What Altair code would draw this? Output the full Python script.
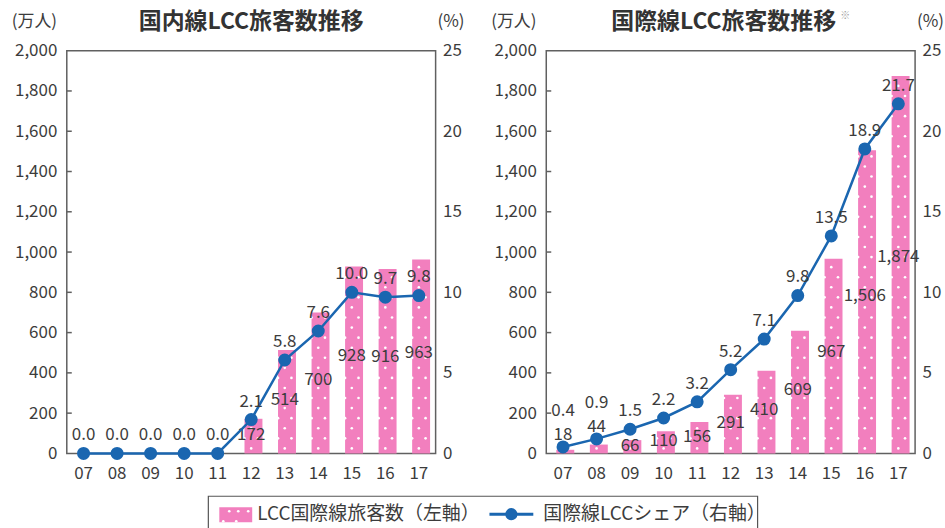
import altair as alt
import pandas as pd

# ---------------- data ----------------
years = ["07", "08", "09", "10", "11", "12", "13", "14", "15", "16", "17"]
dom_pax = [0, 0, 0, 0, 0, 172, 514, 700, 928, 916, 963]          # 万人
dom_share = [0.0, 0.0, 0.0, 0.0, 0.0, 2.1, 5.8, 7.6, 10.0, 9.7, 9.8]  # %
int_pax = [18, 44, 66, 110, 156, 291, 410, 609, 967, 1506, 1874]   # 万人
int_share = [0.4, 0.9, 1.5, 2.2, 3.2, 5.2, 7.1, 9.8, 13.5, 18.9, 21.7]  # %

left_ticks = [0, 200, 400, 600, 800, 1000, 1200, 1400, 1600, 1800, 2000]
right_ticks = [0, 5, 10, 15, 20, 25]

titles = ["国内線LCC旅客数推移", "国際線LCC旅客数推移"]
note_mark = "※"
left_unit = "(万人)"
right_unit = "(%)"
legend_labels = ["LCC国際線旅客数（左軸）", "国際線LCCシェア（右軸）"]

# ---------------- style ----------------
FONT = "Noto Sans CJK JP"
PINK = "#f27fbe"
BLUE = "#1a66b0"
TXT = "#3c3c3c"
FRAME = "#606060"
W, H = 370, 404


def panel(pax, share, title_text, title_x, note=None):
    df = pd.DataFrame({"year": years, "value": pax, "share": share})
    base = alt.Chart(df).transform_calculate(
        lab0="max(datum.value * 0.52, 60)", pt="datum.share * 80"
    ).transform_calculate(
        lab="abs(datum.lab0 - datum.pt) < 65 ? (datum.pt - 85 >= 30 ? datum.pt - 85 : datum.pt + 60) : datum.lab0"
    ).transform_calculate(
        slab="(datum.value > 0 && datum.lab > datum.pt) ? (datum.lab + 120) / 80 : datum.share + 1.12"
    )
    xscale = alt.Scale(paddingInner=0.6, paddingOuter=0.3)
    x_axis = alt.X("year:N", sort=years, scale=xscale,
                   axis=alt.Axis(title=None, labelAngle=0, ticks=False, domain=False,
                                 labelPadding=12, labelFontSize=17, labelColor=TXT,
                                 labelFont=FONT, grid=False))
    ys = alt.Scale(domain=[0, 2000], nice=False, zero=True)
    ys2 = alt.Scale(domain=[0, 25], nice=False, zero=True)

    bars = base.transform_filter("datum.value > 0").mark_bar(color=PINK).encode(
        x=x_axis,
        y=alt.Y("value:Q", scale=ys,
                axis=alt.Axis(values=left_ticks, format=",.0f", title=left_unit,
                              titleAngle=0, titleX=-33, titleY=-29, titleAlign="center",
                              titleBaseline="middle", titleFontSize=17,
                              titleFontWeight="normal", titleColor=TXT, titleFont=FONT,
                              ticks=False, domain=False, grid=False, labelPadding=10,
                              labelFontSize=17, labelColor=TXT, labelFont=FONT,
                              orient="left")),
    )

    dots = (
        base.transform_filter("datum.value > 0")
        .transform_calculate(dots="sequence(25, datum.value - 12, 50)")
        .transform_flatten(["dots"], as_=["dot"])
        .transform_calculate(offs="floor(datum.dot / 50) % 2 == 0 ? [0] : [-1, 1]")
        .transform_flatten(["offs"], as_=["off"])
        .mark_circle(color="white", opacity=1, size=7)
        .encode(
            x=x_axis,
            xOffset=alt.XOffset("off:Q", scale=alt.Scale(domain=[-1, 1])),
            y=alt.Y("dot:Q", scale=ys, axis=None),
        )
    )

    ticks = alt.Chart(pd.DataFrame({"t": left_ticks[1:-1]})).mark_rule(
        color=FRAME, strokeWidth=1.5
    ).encode(y=alt.Y("t:Q", scale=ys, axis=None), x=alt.value(0), x2=alt.value(5))

    bar_labels = (
        base.transform_filter("datum.value > 0")
        .mark_text(fontSize=17, color=TXT, font=FONT, baseline="middle")
        .encode(x=x_axis, y=alt.Y("lab:Q", scale=ys, axis=None),
                text=alt.Text("value:Q", format=","))
    )

    line = base.mark_line(color=BLUE, strokeWidth=2.5).encode(
        x=x_axis,
        y=alt.Y("share:Q", scale=ys2,
                axis=alt.Axis(orient="right", values=right_ticks, title=right_unit,
                              titleAngle=0, titleX=15, titleY=-29, titleAlign="center",
                              titleBaseline="middle", titleFontSize=17,
                              titleFontWeight="normal", titleColor=TXT, titleFont=FONT,
                              ticks=False, domain=False, grid=False, labelPadding=7,
                              labelFontSize=17, labelColor=TXT, labelFont=FONT)),
    )
    points = base.mark_circle(color=BLUE, size=170, opacity=1).encode(
        x=x_axis, y=alt.Y("share:Q", scale=ys2, axis=None)
    )
    share_labels = base.mark_text(fontSize=17, color=TXT, font=FONT,
                                  baseline="middle").encode(
        x=x_axis, y=alt.Y("slab:Q", scale=ys2, axis=None),
        text=alt.Text("share:Q", format=".1f"),
    )

    ttl_df = pd.DataFrame({"t": [title_text]})
    title = alt.Chart(ttl_df).mark_text(fontSize=23, fontWeight="bold", color="#333333",
                                        font=FONT, align="center", baseline="middle").encode(
        x=alt.value(title_x), y=alt.value(-29), text="t:N")

    layers = [bars, dots, ticks, bar_labels, line, points, share_labels, title]
    if note:
        note_df = pd.DataFrame({"t": [note]})
        layers.append(
            alt.Chart(note_df).mark_text(fontSize=10, color="#a0a0a0", font=FONT,
                                         align="left", baseline="middle")
            .encode(x=alt.value(title_x + 117), y=alt.value(-35), text="t:N")
        )

    return alt.layer(*layers).resolve_scale(y="independent").properties(width=W, height=H)


p1 = panel(dom_pax, dom_share, titles[0], 185)
p2 = panel(int_pax, int_share, titles[1], 178, note_mark)
top = alt.hconcat(p1, p2, spacing=24)

# ---------------- legend ----------------
LX = 142          # legend box left edge, relative to the left plot's left edge
LW, LH = 693, 34
l1 = pd.DataFrame({"label": [legend_labels[0]]})
l2 = pd.DataFrame({"label": [legend_labels[1]]})
box = alt.Chart(l1).mark_rect(fill="white", stroke="#555555", strokeWidth=1.2).encode(
    x=alt.value(LX), x2=alt.value(LW), y=alt.value(0), y2=alt.value(LH + 4))
sw = alt.Chart(l1).mark_rect(color=PINK).encode(
    x=alt.value(LX + 11), x2=alt.value(LX + 44), y=alt.value(11), y2=alt.value(26))
sw_dots = [
    alt.Chart(l1).mark_circle(color="white", size=7, opacity=1).encode(
        x=alt.value(LX + px), y=alt.value(py))
    for px, py in [(21, 15), (30, 15), (40, 15), (15, 25), (28, 25)]
]
t1 = alt.Chart(l1).mark_text(align="left", baseline="middle", fontSize=19, font=FONT,
                             color=TXT).encode(x=alt.value(LX + 49), y=alt.value(18), text="label:N")
ln = alt.Chart(l2).mark_rule(color=BLUE, strokeWidth=3).encode(
    x=alt.value(LX + 282), x2=alt.value(LX + 326), y=alt.value(18))
pt = alt.Chart(l2).mark_circle(color=BLUE, size=150, opacity=1).encode(
    x=alt.value(LX + 304), y=alt.value(18))
t2 = alt.Chart(l2).mark_text(align="left", baseline="middle", fontSize=19, font=FONT,
                             color=TXT).encode(x=alt.value(LX + 336), y=alt.value(18), text="label:N")
legend = alt.layer(box, sw, *sw_dots, t1, ln, pt, t2).properties(
    width=LW, height=LH, view=alt.ViewBackground(strokeOpacity=0))

chart = (
    alt.vconcat(top, legend, spacing=13)
    .properties(padding={"left": 10, "top": 9, "right": 0, "bottom": 0},
                background="white")
    .configure_view(stroke=FRAME, strokeWidth=1.5)
)

chart.save("out.html", embed_options={"renderer": "svg", "actions": False})
